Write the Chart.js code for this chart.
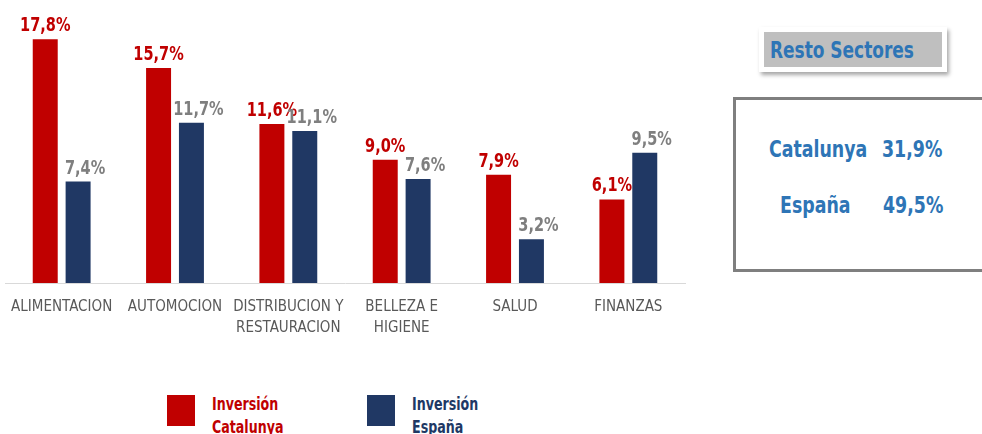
<!DOCTYPE html>
<html>
<head>
<meta charset="utf-8">
<script src="https://cdn.jsdelivr.net/npm/chart.js@4.4.1/dist/chart.umd.min.js"></script>
<style>
  body { margin: 0; background: #fff; width: 982px; height: 434px; overflow: hidden; position: relative;
         font-family: 'Liberation Sans Narrow', 'DejaVu Sans Condensed', sans-serif; }
  #wrap { position: absolute; left: 0; top: 0; width: 700px; height: 345px; }
  .leg { position: absolute; top: 395px; }
  .leg .sq { position: absolute; left: 0; top: 0; width: 28px; height: 31px; }
  .leg .txt { position: absolute; left: 45px; top: -3px; font-weight: bold; font-size: 18px; line-height: 23px; white-space: nowrap;
              transform: scaleX(0.78); transform-origin: left top; }
  #titulo { position: absolute; left: 759px; top: 27px; width: 172px; height: 35px; background: #BFBFBF;
            border: 5px solid #fff; box-shadow: 2px 3px 4px rgba(0,0,0,0.35);
            box-sizing: content-box; padding-left: 6px; }
  #titulo span { display: inline-block; color: #2E75B6; font-weight: bold; font-size: 23px; line-height: 36px; white-space: nowrap;
                 transform: scaleX(0.82); transform-origin: left top; }
  #caja { position: absolute; left: 733px; top: 97px; width: 260px; height: 175px; border: 3px solid #7F7F7F; box-sizing: border-box; }
  .fila { position: absolute; color: #2E75B6; font-weight: bold; font-size: 23px; white-space: nowrap;
          transform: scaleX(0.84); transform-origin: left top; }
</style>
</head>
<body>
<div id="wrap"><canvas id="grafico"></canvas></div>

<div class="leg" style="left:167px;"><div class="sq" style="background:#C00000"></div><div class="txt" style="color:#C00000">Inversión<br>Catalunya</div></div>
<div class="leg" style="left:367px;"><div class="sq" style="background:#203864"></div><div class="txt" style="color:#203864">Inversión<br>España</div></div>

<div id="titulo"><span>Resto Sectores</span></div>
<div id="caja"></div>
<div class="fila" style="left:769px; top:136px;">Catalunya</div>
<div class="fila" style="left:882px; top:136px;">31,9%</div>
<div class="fila" style="left:780px; top:192px;">España</div>
<div class="fila" style="left:883px; top:192px;">49,5%</div>

<script>
const sectores = ['ALIMENTACION', 'AUTOMOCION', ['DISTRIBUCION Y', 'RESTAURACION'], ['BELLEZA E', 'HIGIENE'], 'SALUD', 'FINANZAS'];
const inversionCatalunya = [17.8, 15.7, 11.6, 9.0, 7.9, 6.1];
const inversionEspana = [7.4, 11.7, 11.1, 7.6, 3.2, 9.5];

const fuente = "'Liberation Sans Narrow', 'DejaVu Sans Condensed', sans-serif";

// etiquetas de valor encima de cada barra (un poco estrechadas, como la fuente original)
const etiquetas = {
  id: 'etiquetas',
  afterDatasetsDraw(chart) {
    const ctx = chart.ctx;
    ctx.save();
    ctx.font = 'bold 19px ' + fuente;
    ctx.textAlign = 'center';
    ctx.textBaseline = 'alphabetic';
    chart.data.datasets.forEach((ds, i) => {
      const meta = chart.getDatasetMeta(i);
      ctx.fillStyle = i === 0 ? '#C00000' : '#7F7F7F';
      const dx = i === 0 ? 0 : 7;
      meta.data.forEach((bar, j) => {
        const txt = ds.data[j].toFixed(1).replace('.', ',') + '%';
        ctx.save();
        ctx.translate(bar.x + dx, bar.y - 8);
        ctx.scale(0.85, 1);
        ctx.fillText(txt, 0, 0);
        ctx.restore();
      });
    });
    ctx.restore();
  }
};

new Chart(document.getElementById('grafico'), {
  type: 'bar',
  data: {
    labels: sectores,
    datasets: [
      { label: 'Inversión Catalunya', data: inversionCatalunya, backgroundColor: '#C00000',
        categoryPercentage: 0.58, barPercentage: 0.76 },
      { label: 'Inversión España', data: inversionEspana, backgroundColor: '#203864',
        categoryPercentage: 0.58, barPercentage: 0.76 }
    ]
  },
  options: {
    responsive: true,
    maintainAspectRatio: false,
    animation: false,
    layout: { padding: { left: 5, right: 15, top: 9, bottom: 0 } },
    plugins: {
      legend: { display: false },
      tooltip: { enabled: false }
    },
    scales: {
      x: {
        grid: { display: false },
        border: { display: true, color: '#D9D9D9', width: 1 },
        ticks: { color: '#595959', font: { family: fuente, size: 15, lineHeight: 1.4 }, padding: 6, maxRotation: 0, autoSkip: false },
        afterFit(scale) { scale.height = 62; }
      },
      y: {
        display: false,
        min: 0,
        max: 20
      }
    }
  },
  plugins: [etiquetas]
});
</script>
</body>
</html>
